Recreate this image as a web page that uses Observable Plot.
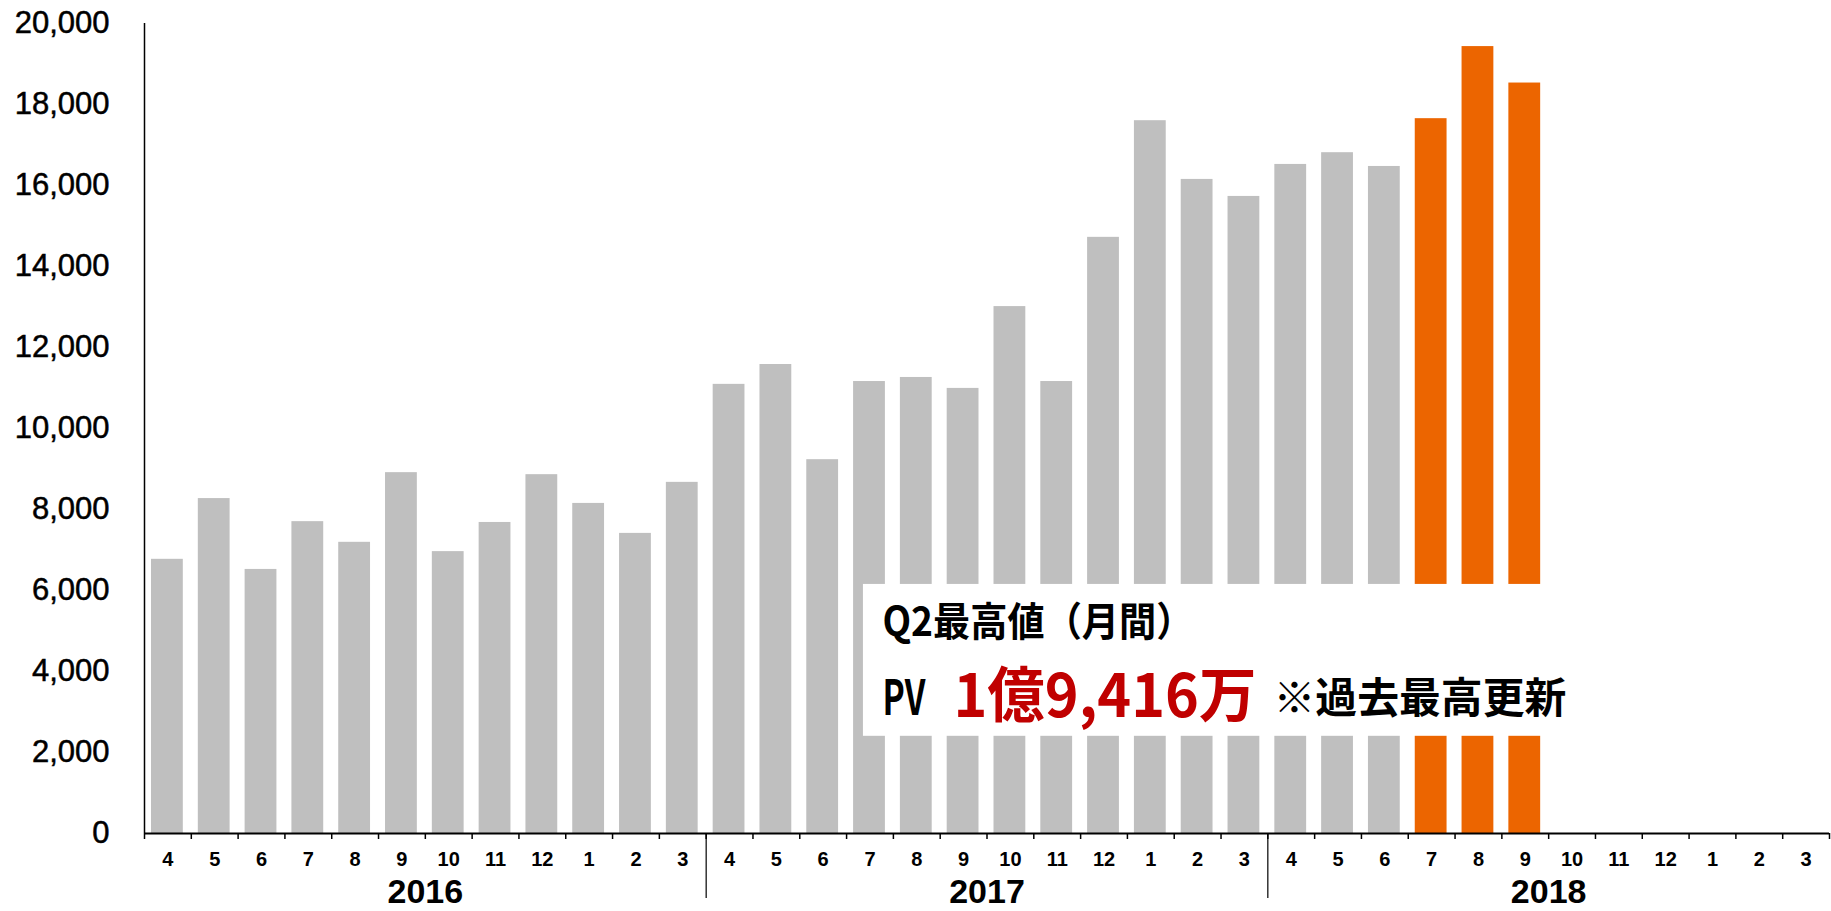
<!DOCTYPE html>
<html>
<head>
<meta charset="utf-8">
<script src="https://cdn.jsdelivr.net/npm/d3@7"></script>
<script src="https://cdn.jsdelivr.net/npm/@observablehq/plot@0.6"></script>
<style>
  html, body { margin: 0; padding: 0; background: #ffffff; }
  #chart { width: 1831px; height: 911px; overflow: hidden; }
</style>
</head>
<body>
<div id="chart"></div>
<script>
// ---- data ----
const fiscalYears = ["2016", "2017", "2018"];
const months = [4, 5, 6, 7, 8, 9, 10, 11, 12, 1, 2, 3];
const pv2016 = [6770, 8270, 6520, 7700, 7190, 8910, 6960, 7680, 8860, 8150, 7410, 8670];
const pv2017 = [11090, 11580, 9230, 11160, 11260, 10990, 13010, 11160, 14720, 17600, 16150, 15730];
const pv2018 = [16520, 16810, 16470, 17650, 19430, 18530];
const highlightMonths2018 = [7, 8, 9];
const yTicks = [0, 2000, 4000, 6000, 8000, 10000, 12000, 14000, 16000, 18000, 20000];

const noteTitle = "Q2最高値（月間）";
const notePrefix = "PV";
const noteValue = "1億9,416万";
const noteSuffix = "※過去最高更新";

// ---- build table ----
const series = [pv2016, pv2017, pv2018];
const rows = [];
series.forEach((vals, yi) => {
  vals.forEach((v, mi) => {
    const i = yi * 12 + mi;
    rows.push({
      i,
      year: fiscalYears[yi],
      month: months[mi],
      value: v,
      highlight: yi === 2 && highlightMonths2018.includes(months[mi])
    });
  });
});
const nSlots = fiscalYears.length * months.length;

const gray = "#bfbfbf";
const orange = "#ec6500";
const red = "#c00000";
const cjk = "'Noto Sans CJK JP', 'Noto Sans', sans-serif";
const yFormat = d3.format(",");

// annotation box extent (data units)
const box = {x1: 15.36, x2: 30.49, y1: 2400, y2: 6150};

const chart = Plot.plot({
  width: 1831,
  height: 911,
  marginLeft: 144,
  marginRight: 2,
  marginTop: 23,
  marginBottom: 78,
  x: {type: "linear", domain: [0, nSlots], axis: null, label: null},
  y: {domain: [0, 20000], axis: null, label: null},
  color: {type: "identity"},
  style: {fontFamily: "'Liberation Sans', Arial, sans-serif", background: "#ffffff", color: "#000000"},
  marks: [
    Plot.rectY(rows, {
      x1: "i", x2: d => d.i + 1, y: "value",
      fill: d => d.highlight ? orange : gray,
      insetLeft: 7, insetRight: 8
    }),
    // y axis
    Plot.axisY(yTicks, {tickSize: 0, tickPadding: 35, tickFormat: yFormat, fontSize: 31, fontWeight: "normal", label: null}),
    Plot.ruleX([0], {y1: 0, y2: 20000, stroke: "#000", strokeWidth: 1.5}),
    // x axis baseline and boundary ticks
    Plot.ruleY([0], {stroke: "#000", strokeWidth: 2}),
    Plot.axisX(d3.range(nSlots + 1), {tickSize: 6, tickFormat: () => "", strokeWidth: 1.5, label: null}),
    // month labels
    Plot.axisX(d3.range(nSlots).map(i => i + 0.5), {
      tickSize: 0, tickPadding: 18, fontSize: 20, fontWeight: "bold", label: null,
      tickFormat: d => String(months[Math.floor(d) % 12])
    }),
    // year separators
    Plot.axisX([12, 24], {tickSize: 65, tickFormat: () => "", strokeWidth: 1.2, label: null}),
    // year labels
    Plot.axisX([6, 18, 30], {
      tickSize: 0, tickPadding: 45, fontSize: 34, fontWeight: "bold", label: null,
      tickFormat: d => fiscalYears[Math.floor(d / 12)]
    }),
    // annotation box
    Plot.rect([box], {x1: "x1", x2: "x2", y1: "y1", y2: "y2", fill: "#ffffff"}),
    Plot.text([noteTitle], {x: box.x1, y: box.y2, text: d => d, textAnchor: "start", lineAnchor: "top",
      dx: 19, dy: 23, fontSize: 40, fontWeight: "bold", fontFamily: cjk, fill: "#000"}),
    Plot.text([notePrefix], {x: box.x1, y: box.y2, text: d => d, textAnchor: "start", lineAnchor: "top",
      dx: 19, dy: 96, fontSize: 48, fontWeight: "bold", fontFamily: cjk, fill: "#000"}),
    Plot.text([noteValue], {x: box.x1, y: box.y2, text: d => d, textAnchor: "start", lineAnchor: "top",
      dx: 90, dy: 90.4, fontSize: 60, fontWeight: "bold", fontFamily: cjk, fill: red}),
    Plot.text([noteSuffix], {x: box.x1, y: box.y2, text: d => d, textAnchor: "start", lineAnchor: "top",
      dx: 410, dy: 99, fontSize: 42, fontWeight: "bold", fontFamily: cjk, fill: "#000"})
  ]
});

// condensed lettering of the annotation, as in the reference
const fitWidths = new Map([[noteTitle, 311], [notePrefix, 43], [noteValue, 303], [noteSuffix, 293]]);
const yLabels = new Set(yTicks.map(yFormat));
d3.select(chart).selectAll("text").each(function() {
  const t = this.textContent;
  const w = fitWidths.get(t);
  if (w) {
    this.setAttribute("textLength", w);
    this.setAttribute("lengthAdjust", "spacingAndGlyphs");
  } else if (yLabels.has(t)) {
    this.setAttribute("stroke", "#000");
    this.setAttribute("stroke-width", "0.5");
  }
});

document.getElementById("chart").appendChild(chart);
</script>
</body>
</html>
